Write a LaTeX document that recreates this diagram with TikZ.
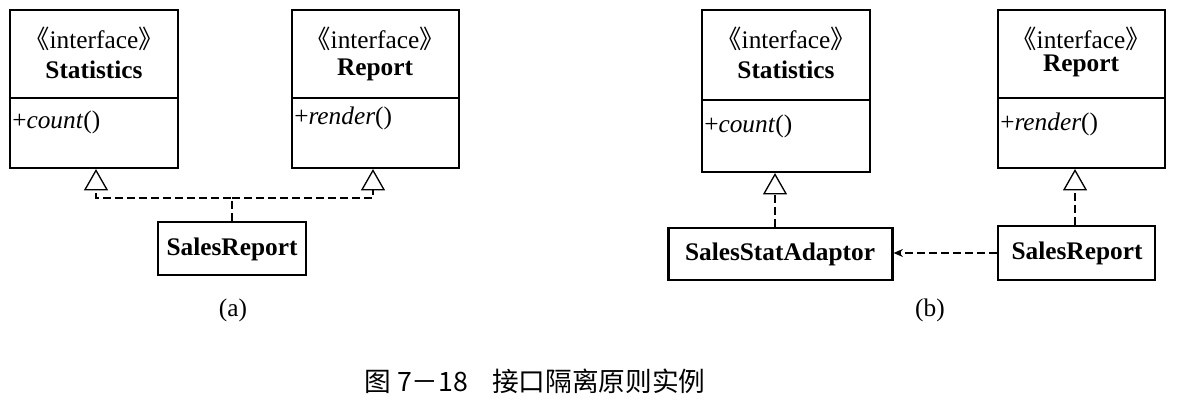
\documentclass[tikz,border=0pt]{standalone}
\usepackage{fontspec}
\setmainfont{Liberation Serif}
\newfontfamily\cjk{Noto Sans CJK SC}
\usetikzlibrary{arrows.meta}
\tikzset{
  umlbox/.style={draw, line width=1.6pt, rectangle, inner sep=0pt},
  txt/.style={inner sep=0pt, font=\fontsize{19}{21}\selectfont},
  btxt/.style={inner sep=0pt, font=\fontsize{19}{21}\selectfont\bfseries},
  realize/.style={line width=1pt, dash pattern=on 6pt off 3pt, -{Triangle[open, length=16pt, width=18pt, line width=1pt]}},
  dep/.style={line width=1pt, dash pattern=on 6pt off 3pt, -{Stealth[length=7pt, width=6pt]}},
  divider/.style={line width=1.2pt}
}
\begin{document}
\begin{tikzpicture}[x=0.75pt, y=-0.75pt]
\useasboundingbox (0,0) rectangle (1177,416);
% (a)
\node[umlbox, minimum width=126pt, minimum height=118.5pt] (sa) at (94,89) {};
\draw[divider] (sa.west |- 0,98) -- (sa.east |- 0,98);
\node[txt] (sai) at (94,39) {{\cjk 《}interface{\cjk 》}};
\node[btxt] (san) at (94,70) {Statistics};
\node[txt, anchor=west] (sam) at (12,122) {+\textit{count}()};
\node[umlbox, minimum width=125pt, minimum height=118.5pt] (ra) at (375.5,89) {};
\draw[divider] (ra.west |- 0,98) -- (ra.east |- 0,98);
\node[txt] (rai) at (375,39) {{\cjk 《}interface{\cjk 》}};
\node[btxt] (ran) at (375,70) {Report};
\node[txt, anchor=west] (ram) at (294,118) {+\textit{render}()};
\node[umlbox, minimum width=111pt, minimum height=40pt] (sra) at (232,248.5) {};
\node[btxt] (srat) at (232,249) {SalesReport};
\coordinate (ja) at (232,198);
\draw[realize] (sra.north) -- (ja) -| (sa.south -| 96,0);
\draw[realize] (ja) -| (ra.south -| 373,0);
\node[txt] (la) at (233,310) {(a)};
% (b)
\node[umlbox, minimum width=126pt, minimum height=121.5pt] (sb) at (786,91) {};
\draw[divider] (sb.west |- 0,100) -- (sb.east |- 0,100);
\node[txt] (sbi) at (786,39) {{\cjk 《}interface{\cjk 》}};
\node[btxt] (sbn) at (786,70) {Statistics};
\node[txt, anchor=west] (sbm) at (704,126) {+\textit{count}()};
\node[umlbox, minimum width=125pt, minimum height=118.5pt] (rb) at (1081.5,89) {};
\draw[divider] (rb.west |- 0,98) -- (rb.east |- 0,98);
\node[txt] (rbi) at (1081,39) {{\cjk 《}interface{\cjk 》}};
\node[btxt] (rbn) at (1081,66) {Report};
\node[txt, anchor=west] (rbm) at (1000,124) {+\textit{render}()};
\node[umlbox, minimum width=168pt, minimum height=39pt] (ad) at (780.5,254) {};
\node[btxt] (adt) at (780,254) {SalesStatAdaptor};
\node[umlbox, minimum width=118pt, minimum height=40.5pt] (srb) at (1076.5,253) {};
\node[btxt] (srbt) at (1077,253) {SalesReport};
\draw[realize] (ad.north -| 775,0) -- (sb.south -| 775,0);
\draw[realize] (srb.north -| 1075,0) -- (rb.south -| 1075,0);
\draw[dep] (srb.west) -- (ad.east |- srb.west);
\node[txt] (lb) at (930,310) {(b)};
% caption
\node[inner sep=0pt, font=\cjk\fontsize{20}{22}\selectfont] (cap) at (535,381) {图 7－18\hspace{18pt}接口隔离原则实例};
\end{tikzpicture}
\end{document}
